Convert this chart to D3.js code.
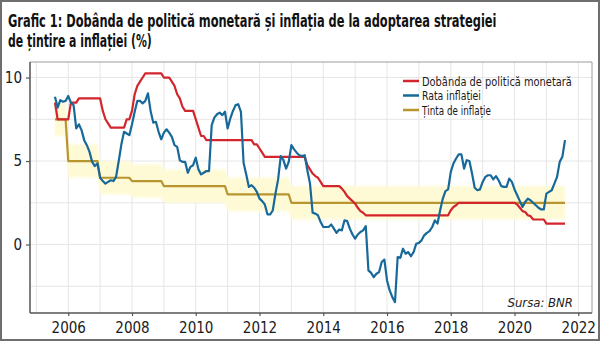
<!DOCTYPE html>
<html>
<head>
<meta charset="utf-8">
<script src="https://cdn.jsdelivr.net/npm/d3@7"></script>
<style>
  body { margin: 0; background: #fff; }
  svg { display: block; font-family: "Liberation Sans Narrow", "DejaVu Sans Condensed", "Roboto Condensed", sans-serif; }
</style>
</head>
<body>
<svg id="chart" width="600" height="341"></svg>
<script>
// monthly series start in August 2005
const firstYear = 2005;
const firstMonth = 8;

// annual CPI inflation, % (monthly)
const inflation = [
  8.85, 8.2, 8.65, 8.55, 8.6,                                   // 2005 Aug-Dec
  8.9, 8.5, 8.35, 6.95, 7.2, 6.85, 6.25, 5.95, 5.55, 4.95, 4.7, 4.85,   // 2006
  4.0, 3.8, 3.65, 3.75, 3.85, 3.8, 4.05, 5.0, 6.0, 6.75, 6.65, 6.55,    // 2007
  7.2, 7.95, 8.6, 8.6, 8.45, 8.6, 9.05, 8.0, 7.3, 7.35, 6.75, 6.3,      // 2008
  6.7, 6.9, 6.7, 6.45, 5.95, 5.85, 5.05, 4.95, 4.95, 4.3, 4.65, 4.75,   // 2009
  5.2, 4.5, 4.2, 4.3, 4.4, 4.4, 7.15, 7.6, 7.8, 7.9, 7.75, 7.95,        // 2010
  6.95, 7.55, 8.0, 8.35, 8.4, 7.95, 4.9, 4.2, 3.45, 3.55, 3.4, 3.15,    // 2011
  2.75, 2.6, 2.4, 1.8, 1.8, 2.05, 3.05, 3.9, 5.3, 5.05, 4.55, 4.95,     // 2012
  5.95, 5.7, 5.5, 5.35, 5.3, 5.35, 4.45, 3.65, 1.9, 1.85, 1.75, 1.35,   // 2013
  1.05, 1.05, 1.05, 1.2, 0.95, 0.7, 0.9, 0.85, 1.45, 1.4, 0.95, 0.6,    // 2014
  0.35, 0.6, 0.75, 0.85, 1.1, -1.55, -1.7, -1.95, -1.75, -1.65, -1.05, -0.9, // 2015
  -2.15, -2.75, -3.15, -3.45, -0.75, -0.8, -0.25, -0.55, -0.45, -0.7, -0.45, 0.05, // 2016
  0.1, 0.25, 0.55, 0.7, 0.8, 1.05, 1.45, 1.25, 2.05, 2.75, 3.2, 3.3,    // 2017
  4.35, 4.85, 5.15, 5.4, 5.4, 4.55, 5.05, 5.0, 4.25, 3.4, 3.25, 3.3,    // 2018
  3.75, 4.05, 4.15, 4.15, 3.9, 4.1, 3.85, 3.5, 3.45, 3.45, 3.95, 3.75,  // 2019
  3.3, 2.95, 2.6, 2.25, 2.55, 2.75, 2.65, 2.5, 2.35, 2.2, 2.1, 2.1,     // 2020
  3.05, 3.15, 3.25, 3.65, 4.05, 4.95, 5.25, 6.25                        // 2021 Jan-Aug
];

// NBR monetary policy rate, % (monthly average)
const policyRate = [
  8.5, 7.5, 7.5, 7.5, 7.5,                                                  // 2005 Aug-Dec
  7.5, 8.5, 8.5, 8.5, 8.75, 8.75, 8.75, 8.75, 8.75, 8.75, 8.75, 8.75,       // 2006
  8.75, 8.0, 7.5, 7.25, 7.0, 7.0, 7.0, 7.0, 7.0, 7.0, 7.5, 7.5,             // 2007
  8.0, 9.0, 9.5, 9.75, 10.0, 10.25, 10.25, 10.25, 10.25, 10.25, 10.25, 10.25, // 2008
  10.0, 10.0, 10.0, 9.75, 9.5, 9.0, 8.75, 8.25, 8.0, 8.0, 8.0, 8.0,         // 2009
  7.5, 7.0, 6.5, 6.5, 6.25, 6.25, 6.25, 6.25, 6.25, 6.25, 6.25, 6.25,       // 2010
  6.25, 6.25, 6.25, 6.25, 6.25, 6.25, 6.25, 6.25, 6.25, 6.25, 6.0, 6.0,     // 2011
  5.75, 5.5, 5.25, 5.25, 5.25, 5.25, 5.25, 5.25, 5.25, 5.25, 5.25, 5.25,    // 2012
  5.25, 5.25, 5.25, 5.25, 5.25, 5.25, 4.75, 4.5, 4.25, 4.1, 4.0, 3.75,      // 2013
  3.5, 3.5, 3.5, 3.5, 3.5, 3.5, 3.5, 3.35, 3.15, 2.9, 2.75, 2.6,            // 2014
  2.45, 2.2, 2.0, 1.9, 1.75, 1.75, 1.75, 1.75, 1.75, 1.75, 1.75, 1.75,      // 2015
  1.75, 1.75, 1.75, 1.75, 1.75, 1.75, 1.75, 1.75, 1.75, 1.75, 1.75, 1.75,   // 2016
  1.75, 1.75, 1.75, 1.75, 1.75, 1.75, 1.75, 1.75, 1.75, 1.75, 1.75, 1.75,   // 2017
  2.05, 2.25, 2.35, 2.5, 2.5, 2.5, 2.5, 2.5, 2.5, 2.5, 2.5, 2.5,            // 2018
  2.5, 2.5, 2.5, 2.5, 2.5, 2.5, 2.5, 2.5, 2.5, 2.5, 2.5, 2.5,               // 2019
  2.5, 2.4, 2.2, 2.0, 1.95, 1.75, 1.7, 1.5, 1.5, 1.5, 1.5, 1.5,             // 2020
  1.25, 1.25, 1.25, 1.25, 1.25, 1.25, 1.25, 1.25                            // 2021 Jan-Aug
];

// inflation target (annual) and the +/- 1 pp variation band
const targetYears  = [2005, 2006, 2007, 2008, 2009, 2010, 2011, 2012, 2013, 2014, 2015, 2016, 2017, 2018, 2019, 2020, 2021];
const targetValues = [7.5, 5, 4, 3.8, 3.5, 3.5, 3, 3, 2.5, 2.5, 2.5, 2.5, 2.5, 2.5, 2.5, 2.5, 2.5];
const targetBand = 1;

const xTicks = [2006, 2008, 2010, 2012, 2014, 2016, 2018, 2020, 2022];
const yTicks = [0, 5, 10];
const legendLabels = ['Dobânda de politică monetară', 'Rata inflației', 'Ținta de inflație'];
const colors = ['#d3252c', '#17699a', '#b9952f'];

const titleLines = [
  'Grafic 1: Dobânda de politică monetară și inflația de la adoptarea strategiei',
  'de țintire a inflației (%)'
];

// ---- build monthly records
const monthTime = i => firstYear + (firstMonth - 1 + i) / 12;
const targetOf = t => targetValues[targetYears.indexOf(Math.floor(t + 1e-9))];

const rows = inflation.map((v, i) => {
  const t = monthTime(i);
  return { t: t, infl: v, rate: policyRate[i], target: targetOf(t) };
});

const svg = d3.select('#chart');
const W = 600, H = 341;
const plotLeft = 30, plotRight = 592, plotTop = 62, plotBottom = 313;

const x = d3.scaleLinear().domain([2004.8, 2022.43]).range([plotLeft, plotRight]);
const y = d3.scaleLinear().domain([-4.1, 10.93]).range([plotBottom, plotTop]);

// squeeze a text horizontally so it spans the given width
function squeeze(sel, width) {
  sel.each(function() {
    const natural = this.getComputedTextLength();
    d3.select(this).attr('transform', `scale(${width / natural},1)`);
  });
}

// outer frame
svg.append('rect')
  .attr('x', 1).attr('y', 1).attr('width', W - 2).attr('height', H - 2)
  .attr('fill', '#fff').attr('stroke', '#6e6e6e').attr('stroke-width', 2);

// title
const titleWidths = [489, 144];
svg.selectAll('.title')
  .data(titleLines)
  .enter().append('g')
  .attr('class', 'title')
  .attr('transform', (d, i) => `translate(8,${26.5 + i * 20.5})`)
  .append('text')
  .style('font-size', '17.5px')
  .style('font-weight', 'bold')
  .style('fill', '#111')
  .text(d => d)
  .each(function(d, i) { squeeze(d3.select(this), titleWidths[i]); });

// grid
const minorX = d3.range(2005, 2022, 2);
const minorY = [-2.5, 2.5, 7.5];
const grid = svg.append('g').attr('stroke', '#e6e6e6').attr('stroke-width', 1);
grid.selectAll('.gx')
  .data(minorX.concat(xTicks))
  .enter().append('line')
  .attr('x1', d => x(d)).attr('x2', d => x(d))
  .attr('y1', plotTop).attr('y2', plotBottom);
grid.selectAll('.gy')
  .data(minorY.concat(yTicks))
  .enter().append('line')
  .attr('x1', plotLeft).attr('x2', plotRight)
  .attr('y1', d => y(d)).attr('y2', d => y(d));

// panel border (top and right)
svg.append('path')
  .attr('d', `M${plotLeft},${plotTop}H${plotRight}V${plotBottom}`)
  .attr('fill', 'none').attr('stroke', '#9c9c9c').attr('stroke-width', 1);

// target variation band, soft edges
const defs = svg.append('defs');
defs.append('filter').attr('id', 'soft')
  .attr('x', '-5%').attr('y', '-20%').attr('width', '110%').attr('height', '140%')
  .append('feGaussianBlur').attr('stdDeviation', 1.3);

const band = d3.area()
  .x(d => x(d.t))
  .y0(d => y(d.target - targetBand))
  .y1(d => y(d.target + targetBand));

svg.append('path')
  .datum(rows)
  .attr('d', band)
  .attr('fill', '#fffad6')
  .attr('filter', 'url(#soft)');

// series lines
const series = [
  { key: 'target', color: colors[2] },
  { key: 'rate', color: colors[0] },
  { key: 'infl', color: colors[1] }
];

series.forEach(s => {
  const line = d3.line()
    .x(d => x(d.t))
    .y(d => y(d[s.key]));
  svg.append('path')
    .datum(rows)
    .attr('d', line)
    .attr('fill', 'none')
    .attr('stroke', s.color)
    .attr('stroke-width', 2.2)
    .attr('stroke-linejoin', 'round');
});

// axes
const xAxis = svg.append('g')
  .attr('transform', `translate(0,${plotBottom})`)
  .call(d3.axisBottom(x).tickValues(xTicks).tickFormat(d3.format('d')).tickSize(3).tickPadding(6).tickSizeOuter(0));
const yAxis = svg.append('g')
  .attr('transform', `translate(${plotLeft},0)`)
  .call(d3.axisLeft(y).tickValues(yTicks).tickSize(4).tickPadding(4).tickSizeOuter(0));

[xAxis, yAxis].forEach(ax => {
  ax.select('.domain').attr('stroke', '#555').attr('stroke-width', 1.5);
  ax.selectAll('.tick line').attr('stroke', '#555').attr('stroke-width', 1.2);
  ax.selectAll('.tick text')
    .style('font-family', '"Liberation Sans Narrow", "DejaVu Sans Condensed", sans-serif')
    .style('font-size', '15px')
    .attr('fill', '#1a1a1a');
});
// axis lines span the whole panel
xAxis.select('.domain').attr('d', `M${plotLeft},0H${plotRight}`);
yAxis.select('.domain').attr('d', `M0,${plotBottom}V${plotTop}`);

// legend
const legendWidths = [150, 59, 69];
const legend = svg.selectAll('.legend')
  .data(legendLabels)
  .enter().append('g')
  .attr('class', 'legend')
  .attr('transform', (d, i) => `translate(403,${81 + i * 14.5})`);

legend.append('line')
  .attr('x1', 0).attr('x2', 16)
  .attr('stroke', (d, i) => colors[i])
  .attr('stroke-width', 2.5);

legend.append('g')
  .attr('transform', 'translate(19,4.5)')
  .append('text')
  .style('font-size', '13px')
  .style('fill', '#1a1a1a')
  .text(d => d)
  .each(function(d, i) { squeeze(d3.select(this), legendWidths[i]); });

// source note
svg.append('text')
  .attr('x', 573)
  .attr('y', 307)
  .attr('text-anchor', 'end')
  .style('font-size', '13px')
  .style('font-style', 'italic')
  .style('fill', '#222')
  .text('Sursa: BNR');
</script>
</body>
</html>
